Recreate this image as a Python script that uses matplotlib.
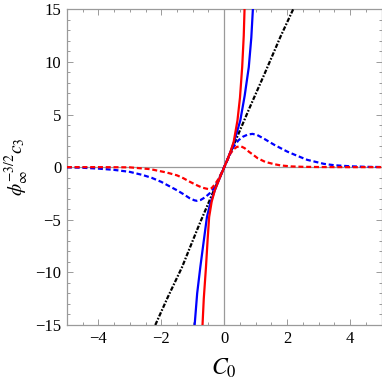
import matplotlib
matplotlib.use("Agg")
import matplotlib.pyplot as plt
from matplotlib.ticker import MultipleLocator

# ── Data (C0, phi^-3/2 c3) ───────────────────────────────────────────────────
red_solid_x = [-0.69, -0.65, -0.58, -0.53, -0.48, -0.40, -0.30, -0.20, -0.10, 0.0,
               0.10, 0.20, 0.30, 0.42, 0.50, 0.57, 0.62, 0.645]
red_solid_y = [-15.0, -12.5, -9.5, -7.0, -4.75, -3.3, -2.2, -1.45, -0.72, 0.0,
               0.72, 1.48, 2.4, 4.43, 6.6, 9.5, 12.5, 15.0]

blue_solid_x = [-0.94, -0.86, -0.76, -0.65, -0.55, -0.45, -0.30, -0.20, -0.10, 0.0,
                0.10, 0.20, 0.30, 0.40, 0.51, 0.65, 0.78, 0.86, 0.91]
blue_solid_y = [-15.0, -12.0, -9.5, -7.0, -4.75, -3.5, -2.2, -1.45, -0.72, 0.0,
                0.72, 1.45, 2.3, 3.3, 4.43, 6.8, 9.5, 12.3, 15.0]

blue_dash_x = [-5.0, -4.5, -4.0, -3.5, -3.0, -2.6, -2.3, -2.0, -1.8, -1.5, -1.3, -1.1,
               -0.95, -0.87, -0.75, -0.6, -0.45, -0.34, -0.2, -0.1, 0.0, 0.1, 0.19,
               0.3, 0.45, 0.6, 0.75, 0.9, 1.05, 1.27, 1.59, 2.0, 2.3, 2.64, 3.17,
               3.5, 4.0, 4.5, 5.0]
blue_dash_y = [-0.02, -0.06, -0.14, -0.26, -0.45, -0.74, -1.02, -1.4, -1.72, -2.2, -2.56, -2.95,
               -3.15, -3.2, -3.12, -2.85, -2.45, -2.05, -1.35, -0.68, 0.0, 0.7, 1.35,
               1.95, 2.55, 2.9, 3.1, 3.16, 3.05, 2.69, 2.12, 1.48, 1.1, 0.69, 0.31,
               0.18, 0.08, 0.03, 0.01]

red_dash_x = [-5.0, -4.0, -3.0, -2.35, -1.83, -1.5, -1.3, -1.1, -0.87, -0.7, -0.5, -0.4,
              -0.3, -0.2, -0.1, 0.0, 0.1, 0.2, 0.3, 0.4, 0.53, 0.65, 0.79, 0.93,
              1.06, 1.3, 1.59, 1.8, 2.12, 2.5, 3.0, 4.0, 5.0]
red_dash_y = [0.0, 0.0, -0.02, -0.19, -0.51, -0.78, -1.05, -1.38, -1.72, -1.95, -2.09, -2.0,
              -1.65, -1.2, -0.62, 0.0, 0.65, 1.3, 1.7, 1.92, 1.98, 1.8, 1.45, 1.15,
              0.85, 0.5, 0.28, 0.16, 0.07, 0.03, 0.01, 0.0, 0.0]

black_x = [-2.19, -1.8, -1.34, -0.8, -0.4, 0.0, 0.4, 0.8, 1.3, 1.78, 2.19]
black_y = [-15.0, -12.4, -9.5, -5.5, -2.7, 0.0, 2.8, 5.6, 9.0, 12.35, 15.0]

x_ticks = [-4, -2, 0, 2, 4]
y_ticks = [-15, -10, -5, 0, 5, 10, 15]

GRAY = "#9a9a9a"

plt.rcParams["font.family"] = ["Liberation Serif", "DejaVu Serif"]
plt.rcParams["mathtext.fontset"] = "stix"
plt.rcParams["lines.scale_dashes"] = False

fig = plt.figure(figsize=(3.82, 3.79), dpi=100)
ax = fig.add_axes([0.175, 0.1425, 0.824, 0.833])

# axes through origin
ax.axhline(0, color=GRAY, lw=0.9, zorder=1)
ax.axvline(0, color=GRAY, lw=0.9, zorder=1)

ax.plot(black_x, black_y, color="black", lw=1.6, dashes=(3.2, 1.2, 1.2, 1.2), zorder=3)
ax.plot(blue_dash_x, blue_dash_y, color="blue", lw=1.6, dashes=(3.6, 2.0), zorder=3)
ax.plot(red_dash_x, red_dash_y, color="red", lw=1.6, dashes=(3.6, 2.0), zorder=3)
ax.plot(blue_solid_x, blue_solid_y, color="blue", lw=1.6, zorder=4)
ax.plot(red_solid_x, red_solid_y, color="red", lw=1.6, zorder=4)

ax.set_xlim(-5, 5)
ax.set_ylim(-15, 15)
ax.set_xticks(x_ticks)
ax.set_yticks(y_ticks)
ax.xaxis.set_minor_locator(MultipleLocator(0.5))
ax.yaxis.set_minor_locator(MultipleLocator(1))
ax.tick_params(which="both", direction="in", top=True, right=True, color=GRAY,
               labelsize=12, width=0.7)
ax.tick_params(which="major", length=4, pad=4)
ax.tick_params(which="minor", length=2.2)
for s in ax.spines.values():
    s.set_color(GRAY)
    s.set_linewidth(0.9)

ax.set_xlabel(r"$C_0$", fontsize=17)
ax.xaxis.set_label_coords(0.5, -0.1)
ax.set_ylabel(r"$\phi_\infty^{-3/2}c_3$", fontsize=14)
ax.yaxis.set_label_coords(-0.115, 0.5)

fig.savefig("out.png", dpi=100)
